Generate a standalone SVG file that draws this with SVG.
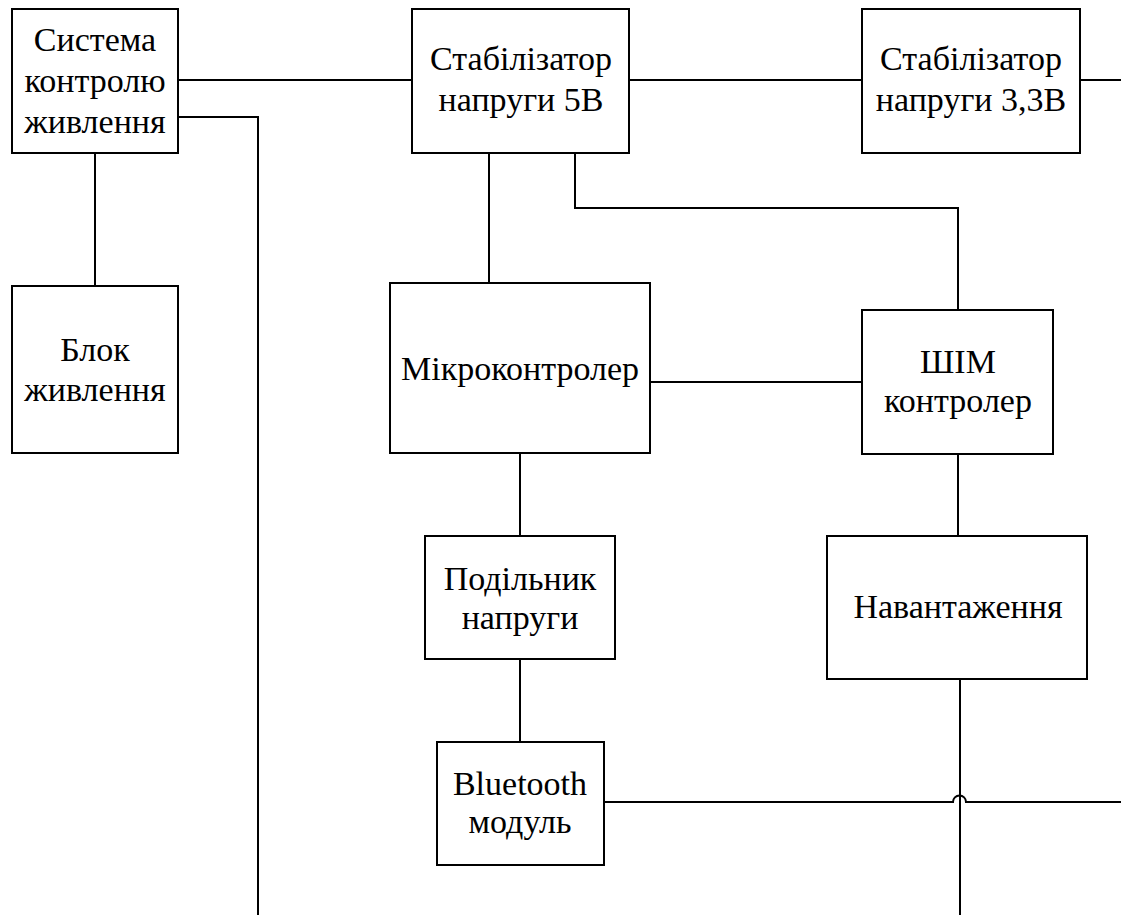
<svg xmlns="http://www.w3.org/2000/svg" width="1121" height="919" viewBox="0 0 1121 919">
<style>
rect.b{fill:#fff;stroke:#000;stroke-width:2}
text{font-family:"Liberation Serif","Times New Roman",serif;font-size:34px;fill:#000;text-anchor:middle}
.c path,.c line{fill:none;stroke:#000;stroke-width:2}
</style>
<rect width="1121" height="919" fill="#fff"/>
<g class="c" id="connectors">
<line x1="178" y1="80" x2="412" y2="80"/>
<path d="M178 117 H258 V915"/>
<line x1="95" y1="153" x2="95" y2="286"/>
<line x1="629" y1="80" x2="862" y2="80"/>
<line x1="1080" y1="80" x2="1121" y2="80"/>
<line x1="489" y1="153" x2="489" y2="283"/>
<path d="M575 153 V208 H958 V310"/>
<line x1="650" y1="382" x2="862" y2="382"/>
<line x1="520" y1="453" x2="520" y2="536"/>
<line x1="520" y1="659" x2="520" y2="742"/>
<line x1="958" y1="454" x2="958" y2="536"/>
<line x1="960" y1="679" x2="960" y2="915"/>
<path d="M604 802 H953 A6.5 6.5 0 0 1 966 802 H1121"/>
</g>
<g id="n1"><rect class="b" x="12" y="9" width="166" height="144"/><text x="95" y="51">Система</text><text x="95" y="92">контролю</text><text x="95" y="133">живлення</text></g>
<g id="n2"><rect class="b" x="12" y="286" width="166" height="167"/><text x="95" y="361">Блок</text><text x="95" y="401">живлення</text></g>
<g id="n3"><rect class="b" x="412" y="9" width="217" height="144"/><text x="521" y="70">Стабілізатор</text><text x="521" y="111">напруги 5В</text></g>
<g id="n4"><rect class="b" x="862" y="9" width="218" height="144"/><text x="971" y="70">Стабілізатор</text><text x="971" y="111">напруги 3,3В</text></g>
<g id="n5"><rect class="b" x="390" y="283" width="260" height="170"/><text x="520" y="380">Мікроконтролер</text></g>
<g id="n6"><rect class="b" x="862" y="310" width="191" height="144"/><text x="958" y="373">ШІМ</text><text x="958" y="412">контролер</text></g>
<g id="n7"><rect class="b" x="425" y="536" width="190" height="123"/><text x="520" y="590">Подільник</text><text x="520" y="629">напруги</text></g>
<g id="n8"><rect class="b" x="827" y="536" width="260" height="143"/><text x="958" y="618">Навантаження</text></g>
<g id="n9"><rect class="b" x="437" y="742" width="167" height="123"/><text x="520" y="795">Bluetooth</text><text x="520" y="833">модуль</text></g>
</svg>
